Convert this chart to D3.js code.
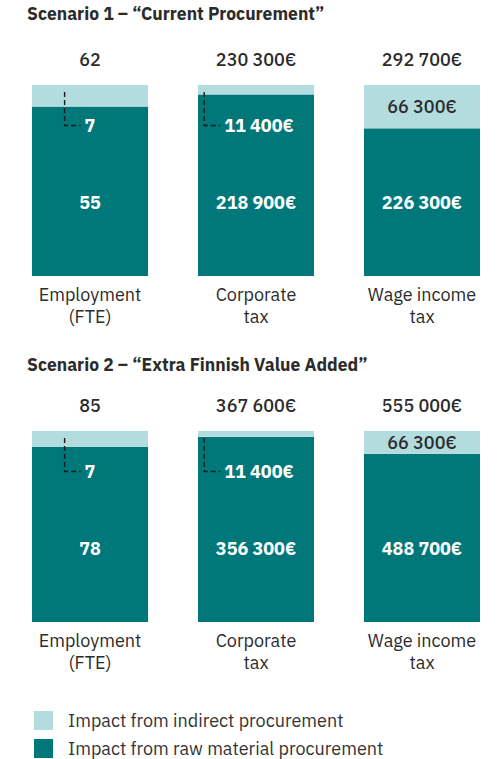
<!DOCTYPE html>
<html>
<head>
<meta charset="utf-8">
<script src="https://cdn.jsdelivr.net/npm/d3@7"></script>
<style>
  body { margin: 0; background: #fff; }
  text { font-family: "IBM Plex Sans", "Noto Sans", sans-serif; }
</style>
</head>
<body>
<div id="chart"></div>
<script>
var width = 504, height = 759;

// data
var categories = [["Employment", "(FTE)"], ["Corporate", "tax"], ["Wage income", "tax"]];
var scenarioTitles = ["Scenario 1 \u2013 \u201cCurrent Procurement\u201d", "Scenario 2 \u2013 \u201cExtra Finnish Value Added\u201d"];
var totals1 = [62, 230300, 292700];
var indirect1 = [7, 11400, 66300];
var raw1 = [55, 218900, 226300];
var totals2 = [85, 367600, 555000];
var indirect2 = [7, 11400, 66300];
var raw2 = [78, 356300, 488700];
var legendLabels = ["Impact from indirect procurement", "Impact from raw material procurement"];

var colours = { indirect: "#b3dcde", raw: "#00787a" };

function fmt(v, euro) {
    var s = String(v).replace(/\B(?=(\d{3})+(?!\d))/g, " ");
    return euro ? s + "€" : s;
}

var svg = d3.select("#chart").append("svg")
    .attr("width", width)
    .attr("height", height);

var x = d3.scaleBand()
    .domain(d3.range(categories.length))
    .range([32, 480])
    .paddingInner(0.301)
    .paddingOuter(0);

var scenarios = [
    { title: scenarioTitles[0], totals: totals1, indirect: indirect1, raw: raw1, top: 0, titleY: 20 },
    { title: scenarioTitles[1], totals: totals2, indirect: indirect2, raw: raw2, top: 346, titleY: 25 }
];

scenarios.forEach(function(sc) {
    var g = svg.append("g").attr("transform", "translate(0," + sc.top + ")");
    var barTop = 85, barBottom = 276;

    g.append("text")
        .attr("x", 27)
        .attr("y", sc.titleY)
        .attr("font-size", 17.5)
        .attr("font-weight", 700)
        .attr("fill", "#2b2b2b")
        .text(sc.title);

    categories.forEach(function(cat, i) {
        // every bar is stretched to its own total
        var y = d3.scaleLinear().domain([0, sc.totals[i]]).range([barBottom, barTop]);
        var x0 = x(i), bw = x.bandwidth(), cx = x0 + bw / 2;
        var euro = i > 0;

        g.append("text")
            .attr("x", cx)
            .attr("y", 66)
            .attr("text-anchor", "middle")
            .attr("font-size", 18)
            .attr("font-weight", 500)
            .attr("fill", "#2b2b2b")
            .text(fmt(sc.totals[i], euro));

        g.append("rect")
            .attr("x", x0)
            .attr("y", y(sc.raw[i]))
            .attr("width", bw)
            .attr("height", barBottom - y(sc.raw[i]))
            .attr("fill", colours.raw);

        g.append("rect")
            .attr("x", x0)
            .attr("y", y(sc.totals[i]))
            .attr("width", bw)
            .attr("height", y(sc.raw[i]) - y(sc.totals[i]))
            .attr("fill", colours.indirect);

        var segH = y(sc.raw[i]) - y(sc.totals[i]);
        if (segH > 22) {
            // big enough: label sits inside the light part
            g.append("text")
                .attr("x", cx)
                .attr("y", y(sc.totals[i]) + segH / 2)
                .attr("dy", "0.35em")
                .attr("text-anchor", "middle")
                .attr("font-size", 18)
                .attr("font-weight", 500)
                .attr("fill", "#2b2b2b")
                .text(fmt(sc.indirect[i], euro));
        } else {
            var t = g.append("text")
                .attr("x", cx + (euro ? 3 : 0))
                .attr("y", 132)
                .attr("text-anchor", "middle")
                .attr("font-size", 18)
                .attr("font-weight", 700)
                .attr("fill", "#fff")
                .text(fmt(sc.indirect[i], euro));
            var tx = (cx + (euro ? 3 : 0)) - t.node().getComputedTextLength() / 2;
            var lx = tx - 20;
            g.append("path")
                .attr("d", "M" + lx + ",92V125.5H" + (tx - 4))
                .attr("fill", "none")
                .attr("stroke", "#1a1a1a")
                .attr("stroke-width", 1.4)
                .attr("stroke-dasharray", "5,3");
        }

        g.append("text")
            .attr("x", cx)
            .attr("y", barTop + 118)
            .attr("dy", "0.35em")
            .attr("text-anchor", "middle")
            .attr("font-size", 18)
            .attr("font-weight", 700)
            .attr("fill", "#fff")
            .text(fmt(sc.raw[i], euro));

        g.selectAll(".cat" + i)
            .data(cat)
          .enter().append("text")
            .attr("x", cx)
            .attr("y", function(d, k) { return 301 + k * 21.5; })
            .attr("text-anchor", "middle")
            .attr("font-size", 18)
            .attr("fill", "#2b2b2b")
            .text(function(d) { return d; });
    });
});

var legend = svg.append("g").attr("transform", "translate(34,711)");
legend.selectAll("rect")
    .data(legendLabels)
  .enter().append("rect")
    .attr("x", 0)
    .attr("y", function(d, i) { return i * 28; })
    .attr("width", 19)
    .attr("height", 19)
    .attr("fill", function(d, i) { return i === 0 ? colours.indirect : colours.raw; });
legend.selectAll("text")
    .data(legendLabels)
  .enter().append("text")
    .attr("x", 34)
    .attr("y", function(d, i) { return i * 28 + 10; })
    .attr("dy", "0.35em")
    .attr("font-size", 18)
    .attr("fill", "#333")
    .text(function(d) { return d; });
</script>
</body>
</html>
